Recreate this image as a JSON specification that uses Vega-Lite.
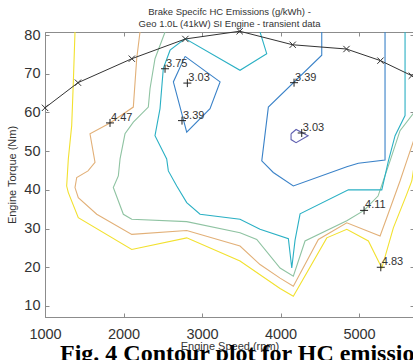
{
  "$schema": "https://vega.github.io/schema/vega-lite/v6.json",
  "width": 369,
  "height": 285,
  "autosize": {"type": "none"},
  "padding": {"left": 45, "top": 32, "right": 0, "bottom": 43},
  "background": "white",
  "title": {
    "text": ["Brake Specifc HC Emissions (g/kWh) -", "Geo 1.0L (41kW) SI Engine - transient data"],
    "font": "Liberation Sans", "fontSize": 9.5, "fontWeight": "normal", "color": "#333333",
    "lineHeight": 12.5, "offset": -2.5, "anchor": "middle"
  },
  "config": {
    "view": {"stroke": "#8c8c8c", "strokeWidth": 1},
    "axis": {
      "grid": false, "domainColor": "#8c8c8c", "tickColor": "#8c8c8c", "tickSize": -4,
      "labelFont": "Liberation Sans", "labelFontSize": 14.5, "labelColor": "#333333",
      "labelFlush": false, "labelOverlap": false,
      "titleFont": "Liberation Sans", "titleFontSize": 11, "titleFontWeight": "normal", "titleColor": "#333333"
    }
  },
  "datasets": {
    "contours": [
      {"level":"4.83","seg":"y","i":0,"rpm":1382,"nm":80.8},
      {"level":"4.83","seg":"y","i":1,"rpm":1361,"nm":67.9},
      {"level":"4.83","seg":"y","i":2,"rpm":1340,"nm":56.6},
      {"level":"4.83","seg":"y","i":3,"rpm":1297,"nm":48.0},
      {"level":"4.83","seg":"y","i":4,"rpm":1276,"nm":41.0},
      {"level":"4.83","seg":"y","i":5,"rpm":1297,"nm":39.3},
      {"level":"4.83","seg":"y","i":6,"rpm":1424,"nm":32.8},
      {"level":"4.83","seg":"y","i":7,"rpm":2105,"nm":24.6},
      {"level":"4.83","seg":"y","i":8,"rpm":2805,"nm":27.6},
      {"level":"4.83","seg":"y","i":9,"rpm":3484,"nm":21.6},
      {"level":"4.83","seg":"y","i":10,"rpm":3994,"nm":14.5},
      {"level":"4.83","seg":"y","i":11,"rpm":4163,"nm":12.5},
      {"level":"4.83","seg":"y","i":12,"rpm":4589,"nm":27.6},
      {"level":"4.83","seg":"y","i":13,"rpm":4844,"nm":29.8},
      {"level":"4.83","seg":"y","i":14,"rpm":5119,"nm":26.8},
      {"level":"4.83","seg":"y","i":15,"rpm":5290,"nm":19.8},
      {"level":"4.83","seg":"y","i":16,"rpm":5437,"nm":30.2},
      {"level":"4.83","seg":"y","i":17,"rpm":5608,"nm":38.9},
      {"level":"4.83","seg":"y","i":18,"rpm":5672,"nm":42.3},
      {"level":"4.83","seg":"y","i":19,"rpm":5700,"nm":46.0},

      {"level":"4.47","seg":"o","i":0,"rpm":2210,"nm":80.8},
      {"level":"4.47","seg":"o","i":1,"rpm":2168,"nm":73.9},
      {"level":"4.47","seg":"o","i":2,"rpm":2125,"nm":61.4},
      {"level":"4.47","seg":"o","i":3,"rpm":1828,"nm":57.3},
      {"level":"4.47","seg":"o","i":4,"rpm":1573,"nm":54.5},
      {"level":"4.47","seg":"o","i":5,"rpm":1637,"nm":47.1},
      {"level":"4.47","seg":"o","i":6,"rpm":1548,"nm":44.9},
      {"level":"4.47","seg":"o","i":7,"rpm":1404,"nm":43.2},
      {"level":"4.47","seg":"o","i":8,"rpm":1382,"nm":40.6},
      {"level":"4.47","seg":"o","i":9,"rpm":1424,"nm":38.0},
      {"level":"4.47","seg":"o","i":10,"rpm":1659,"nm":33.7},
      {"level":"4.47","seg":"o","i":11,"rpm":2105,"nm":28.5},
      {"level":"4.47","seg":"o","i":12,"rpm":2805,"nm":29.5},
      {"level":"4.47","seg":"o","i":13,"rpm":3484,"nm":25.5},
      {"level":"4.47","seg":"o","i":14,"rpm":3739,"nm":20.7},
      {"level":"4.47","seg":"o","i":15,"rpm":3994,"nm":17.2},
      {"level":"4.47","seg":"o","i":16,"rpm":4163,"nm":15.1},
      {"level":"4.47","seg":"o","i":17,"rpm":4482,"nm":27.2},
      {"level":"4.47","seg":"o","i":18,"rpm":4844,"nm":31.5},
      {"level":"4.47","seg":"o","i":19,"rpm":5268,"nm":28.1},
      {"level":"4.47","seg":"o","i":20,"rpm":5353,"nm":32.8},
      {"level":"4.47","seg":"o","i":21,"rpm":5522,"nm":42.3},
      {"level":"4.47","seg":"o","i":22,"rpm":5608,"nm":47.5},
      {"level":"4.47","seg":"o","i":23,"rpm":5700,"nm":53.0},

      {"level":"4.11","seg":"g","i":0,"rpm":2529,"nm":80.8},
      {"level":"4.11","seg":"g","i":1,"rpm":2401,"nm":73.9},
      {"level":"4.11","seg":"g","i":2,"rpm":2338,"nm":66.2},
      {"level":"4.11","seg":"g","i":3,"rpm":2316,"nm":61.4},
      {"level":"4.11","seg":"g","i":4,"rpm":2125,"nm":57.5},
      {"level":"4.11","seg":"g","i":5,"rpm":2019,"nm":54.5},
      {"level":"4.11","seg":"g","i":6,"rpm":1956,"nm":48.0},
      {"level":"4.11","seg":"g","i":7,"rpm":1934,"nm":43.6},
      {"level":"4.11","seg":"g","i":8,"rpm":1870,"nm":40.6},
      {"level":"4.11","seg":"g","i":9,"rpm":1998,"nm":33.7},
      {"level":"4.11","seg":"g","i":10,"rpm":2105,"nm":32.4},
      {"level":"4.11","seg":"g","i":11,"rpm":2805,"nm":31.8},
      {"level":"4.11","seg":"g","i":12,"rpm":3484,"nm":28.9},
      {"level":"4.11","seg":"g","i":13,"rpm":3697,"nm":27.2},
      {"level":"4.11","seg":"g","i":14,"rpm":3994,"nm":19.8},
      {"level":"4.11","seg":"g","i":15,"rpm":4163,"nm":17.7},
      {"level":"4.11","seg":"g","i":16,"rpm":4312,"nm":26.8},
      {"level":"4.11","seg":"g","i":17,"rpm":4844,"nm":32.0},
      {"level":"4.11","seg":"g","i":18,"rpm":5064,"nm":34.7},
      {"level":"4.11","seg":"g","i":19,"rpm":5242,"nm":38.4},
      {"level":"4.11","seg":"g","i":20,"rpm":5395,"nm":47.5},
      {"level":"4.11","seg":"g","i":21,"rpm":5522,"nm":55.3},
      {"level":"4.11","seg":"g","i":22,"rpm":5700,"nm":60.0},

      {"level":"3.75","seg":"c","i":0,"rpm":5586,"nm":80.8},
      {"level":"3.75","seg":"c","i":1,"rpm":5586,"nm":59.2},
      {"level":"3.75","seg":"c","i":2,"rpm":5459,"nm":54.0},
      {"level":"3.75","seg":"c","i":3,"rpm":5374,"nm":47.5},
      {"level":"3.75","seg":"c","i":4,"rpm":5290,"nm":40.0},
      {"level":"3.75","seg":"c","i":5,"rpm":4864,"nm":40.0},
      {"level":"3.75","seg":"c","i":6,"rpm":4249,"nm":33.8},
      {"level":"3.75","seg":"c","i":7,"rpm":4185,"nm":27.0},
      {"level":"3.75","seg":"c","i":8,"rpm":4143,"nm":19.8},
      {"level":"3.75","seg":"c","i":9,"rpm":4100,"nm":27.4},
      {"level":"3.75","seg":"c","i":10,"rpm":3739,"nm":29.8},
      {"level":"3.75","seg":"c","i":11,"rpm":3484,"nm":32.4},
      {"level":"3.75","seg":"c","i":12,"rpm":2975,"nm":33.7},
      {"level":"3.75","seg":"c","i":13,"rpm":2805,"nm":36.7},
      {"level":"3.75","seg":"c","i":14,"rpm":2678,"nm":41.0},
      {"level":"3.75","seg":"c","i":15,"rpm":2571,"nm":44.9},
      {"level":"3.75","seg":"c","i":16,"rpm":2550,"nm":48.0},
      {"level":"3.75","seg":"c","i":17,"rpm":2401,"nm":54.0},
      {"level":"3.75","seg":"c","i":18,"rpm":2465,"nm":61.0},
      {"level":"3.75","seg":"c","i":19,"rpm":2507,"nm":71.4},
      {"level":"3.75","seg":"c","i":20,"rpm":2593,"nm":76.1},
      {"level":"3.75","seg":"c","i":21,"rpm":2784,"nm":79.1},
      {"level":"3.75","seg":"c","i":22,"rpm":3484,"nm":70.9},
      {"level":"3.75","seg":"c","i":23,"rpm":3824,"nm":75.2},
      {"level":"3.75","seg":"c","i":24,"rpm":3739,"nm":80.8},

      {"level":"3.39","seg":"bA","i":0,"rpm":2784,"nm":74.5},
      {"level":"3.39","seg":"bA","i":1,"rpm":3230,"nm":67.9},
      {"level":"3.39","seg":"bA","i":2,"rpm":3102,"nm":61.0},
      {"level":"3.39","seg":"bA","i":3,"rpm":2805,"nm":54.9},
      {"level":"3.39","seg":"bA","i":4,"rpm":2635,"nm":67.9},
      {"level":"3.39","seg":"bA","i":5,"rpm":2784,"nm":74.5},

      {"level":"3.39","seg":"bB","i":0,"rpm":4525,"nm":80.8},
      {"level":"3.39","seg":"bB","i":1,"rpm":4525,"nm":74.8},
      {"level":"3.39","seg":"bB","i":2,"rpm":3845,"nm":61.4},
      {"level":"3.39","seg":"bB","i":3,"rpm":3761,"nm":47.5},
      {"level":"3.39","seg":"bB","i":4,"rpm":3908,"nm":44.5},
      {"level":"3.39","seg":"bB","i":5,"rpm":4163,"nm":41.0},
      {"level":"3.39","seg":"bB","i":6,"rpm":4844,"nm":46.0},
      {"level":"3.39","seg":"bB","i":7,"rpm":4991,"nm":46.9},
      {"level":"3.39","seg":"bB","i":8,"rpm":5331,"nm":47.7},
      {"level":"3.39","seg":"bB","i":9,"rpm":5331,"nm":80.8},

      {"level":"3.03","seg":"p","i":0,"rpm":4134,"nm":54.5},
      {"level":"3.03","seg":"p","i":1,"rpm":4198,"nm":55.6},
      {"level":"3.03","seg":"p","i":2,"rpm":4351,"nm":54.0},
      {"level":"3.03","seg":"p","i":3,"rpm":4198,"nm":52.2},
      {"level":"3.03","seg":"p","i":4,"rpm":4134,"nm":53.0},
      {"level":"3.03","seg":"p","i":5,"rpm":4134,"nm":54.5}
    ],
    "torque": [
      {"rpm":1000,"nm":61.2},
      {"rpm":1420,"nm":67.7},
      {"rpm":2106,"nm":73.9},
      {"rpm":2788,"nm":79.0},
      {"rpm":3480,"nm":81.0},
      {"rpm":4155,"nm":77.5},
      {"rpm":4840,"nm":76.4},
      {"rpm":5273,"nm":73.4},
      {"rpm":5672,"nm":69.5}
    ],
    "labels": [
      {"rpm":1828,"nm":57.3,"label":"4.47"},
      {"rpm":2529,"nm":71.3,"label":"3.75"},
      {"rpm":2813,"nm":67.6,"label":"3.03"},
      {"rpm":2745,"nm":57.9,"label":"3.39"},
      {"rpm":4172,"nm":67.7,"label":"3.39"},
      {"rpm":4270,"nm":54.7,"label":"3.03"},
      {"rpm":5064,"nm":34.7,"label":"4.11"},
      {"rpm":5277,"nm":20.0,"label":"4.83"}
    ],
    "caption": [
      {"rpm":1191,"nm":-4.2,"label":"Fig. 4 Contour plot for HC emissions"}
    ]
  },
  "resolve": {"axis": {"x": "independent", "y": "independent"}},
  "layer": [
    {
      "data": {"name": "contours"},
      "mark": {"type": "line", "strokeWidth": 1.1, "clip": true},
      "encoding": {
        "x": {"field": "rpm", "type": "quantitative", "scale": {"domain": [1000, 5700], "nice": false, "zero": false},
              "axis": {"orient": "bottom", "values": [1000, 2000, 3000, 4000, 5000], "format": "d", "labelPadding": 14, "title": "Engine Speed (rpm)", "titlePadding": 0}},
        "y": {"field": "nm", "type": "quantitative", "scale": {"domain": [7.15, 80.8], "nice": false, "zero": false},
              "axis": {"orient": "left", "values": [10, 20, 30, 40, 50, 60, 70, 80], "labelPadding": 9, "title": "Engine Torque (Nm)", "titlePadding": 6}},
        "color": {"field": "level", "type": "nominal",
                  "scale": {"domain": ["3.03", "3.39", "3.75", "4.11", "4.47", "4.83"],
                            "range": ["#6060b0", "#3a82c8", "#2ab0c4", "#8fc3a2", "#e2b078", "#f2e12e"]},
                  "legend": null},
        "detail": {"field": "seg"},
        "order": {"field": "i", "type": "quantitative"}
      }
    },
    {
      "data": {"name": "torque"},
      "mark": {"type": "line", "color": "#333333", "strokeWidth": 1},
      "encoding": {
        "x": {"field": "rpm", "type": "quantitative", "axis": {"orient": "top", "values": [1000, 2000, 3000, 4000, 5000], "labels": false, "title": null, "domain": false}},
        "y": {"field": "nm", "type": "quantitative", "axis": {"orient": "right", "values": [10, 20, 30, 40, 50, 60, 70, 80], "labels": false, "title": null, "domain": false}}
      }
    },
    {
      "data": {"name": "torque"},
      "mark": {"type": "point", "shape": "M-1,-1L1,1M-1,1L1,-1", "size": 40, "filled": false, "stroke": "#333333", "strokeWidth": 1, "opacity": 1},
      "encoding": {
        "x": {"field": "rpm", "type": "quantitative", "axis": null},
        "y": {"field": "nm", "type": "quantitative", "axis": null}
      }
    },
    {
      "data": {"name": "labels"},
      "mark": {"type": "point", "shape": "M-1,0L1,0M0,-1L0,1", "size": 64, "filled": false, "stroke": "#222222", "strokeWidth": 1, "opacity": 1},
      "encoding": {
        "x": {"field": "rpm", "type": "quantitative", "axis": null},
        "y": {"field": "nm", "type": "quantitative", "axis": null}
      }
    },
    {
      "data": {"name": "labels"},
      "mark": {"type": "text", "align": "left", "baseline": "alphabetic", "dx": 1, "dy": -2, "font": "Liberation Sans", "fontSize": 11, "color": "#333333"},
      "encoding": {
        "x": {"field": "rpm", "type": "quantitative", "axis": null},
        "y": {"field": "nm", "type": "quantitative", "axis": null},
        "text": {"field": "label"}
      }
    },
    {
      "data": {"name": "caption"},
      "mark": {"type": "text", "align": "left", "baseline": "alphabetic", "font": "Liberation Serif", "fontSize": 24, "fontWeight": "bold", "color": "#000000"},
      "encoding": {
        "x": {"field": "rpm", "type": "quantitative", "axis": null},
        "y": {"field": "nm", "type": "quantitative", "axis": null},
        "text": {"field": "label"}
      }
    }
  ]
}
